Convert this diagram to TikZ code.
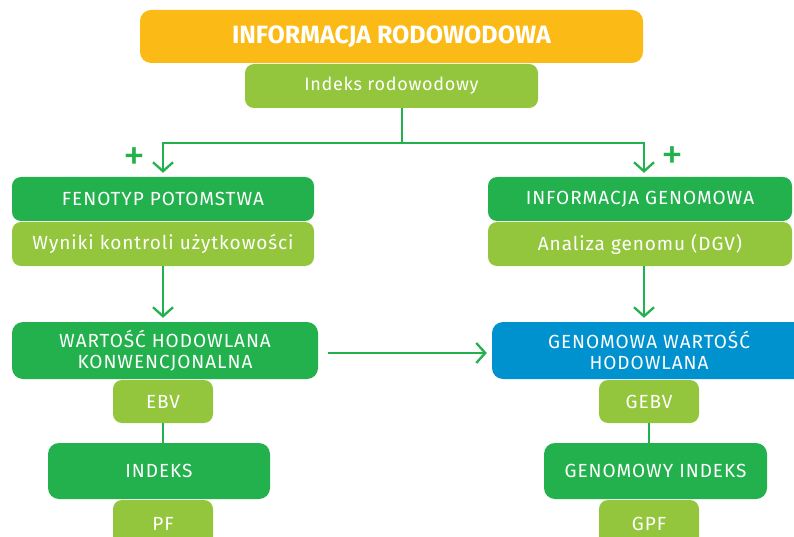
\documentclass[tikz,border=0pt]{standalone}
\usepackage{fontspec}
\setmainfont{Fira Sans}
\usetikzlibrary{arrows.meta}
\definecolor{dgreen}{HTML}{23B14D}
\definecolor{lgreen}{HTML}{93C63D}
\definecolor{orng}{HTML}{FBBA16}
\definecolor{blu}{HTML}{0091CF}
\definecolor{lnc}{HTML}{22B14C}
\tikzset{
  box/.style={rounded corners=11pt, inner sep=0pt, text=white, align=center, font=\fontsize{19}{21}\selectfont\addfontfeatures{LetterSpace=5}},
  sbox/.style={box, rounded corners=9pt},
  conn/.style={draw=lnc, line width=2.3pt},
  arr/.style={conn, -{Straight Barb[length=9pt,width=20pt,line width=2.3pt]}},
  plus/.style={text=lnc, font=\fontsize{44}{44}\selectfont, inner sep=0pt},
}
\begin{document}
\begin{tikzpicture}[x=1pt,y=-1pt]
\useasboundingbox (0,0) rectangle (794,537);
% boxes
\node[box, fill=orng, minimum width=503pt, minimum height=53pt, font=\bfseries\fontsize{25}{27}\selectfont] (top) at (391.5,36.5) {INFORMACJA RODOWODOWA};
\node[sbox, fill=lgreen, minimum width=293pt, minimum height=44pt, font=\fontsize{18}{20}\selectfont\addfontfeatures{LetterSpace=4}] (ir) at (391.5,86) {Indeks rodowodowy};

\node[sbox, fill=dgreen, minimum width=302pt, minimum height=44pt] (fen) at (163,199) {FENOTYP POTOMSTWA};
\node[sbox, fill=lgreen, minimum width=302pt, minimum height=44pt] (wyn) at (163,244) {Wyniki kontroli użytkowości};

\node[sbox, fill=dgreen, minimum width=304pt, minimum height=44pt] (ig) at (640,199) {INFORMACJA GENOMOWA};
\node[sbox, fill=lgreen, minimum width=304pt, minimum height=44pt] (an) at (640,244) {Analiza genomu (DGV)};

\node[box, fill=dgreen, minimum width=306pt, minimum height=57pt] (wh) at (165,350.5) {WARTOŚĆ HODOWLANA\\KONWENCJONALNA};
\node[sbox, fill=lgreen, minimum width=100pt, minimum height=43pt] (ebv) at (163,401.5) {EBV};
\node[box, fill=dgreen, minimum width=222pt, minimum height=56pt] (ind) at (159,471) {INDEKS};
\node[sbox, fill=lgreen, minimum width=100pt, minimum height=48pt] (pf) at (163,524) {PF};

\node[box, fill=blu, minimum width=314pt, minimum height=57pt] (gw) at (649,350.5) {GENOMOWA WARTOŚĆ\\HODOWLANA};
\node[sbox, fill=lgreen, minimum width=100pt, minimum height=43pt] (gebv) at (649,401.5) {GEBV};
\node[box, fill=dgreen, minimum width=223pt, minimum height=56pt] (gi) at (655.5,471) {GENOMOWY INDEKS};
\node[sbox, fill=lgreen, minimum width=100pt, minimum height=48pt] (gpf) at (649,524) {GPF};

% connectors
\coordinate (j) at (402,143);
\coordinate (ja) at (402,108);
\draw[conn] (ja) -- (j);
\draw[arr] (j) -| ([yshift=4pt]fen.north -| 163,0);
\draw[arr] (j) -| ([yshift=4pt]ig.north -| 644,0);
\draw[arr] (wyn.south) -- ([yshift=4pt]wh.north -| wyn.south);
\draw[arr] (an.south -| 644,0) -- ([yshift=4pt]gw.north -| 644,0);
\draw[arr] ([xshift=10pt]wh.east |- 0,353) -- ([xshift=-5pt]gw.west |- 0,353);
\draw[conn] (ebv.south) -- (ind.north -| ebv.south);
\draw[conn] (gebv.south) -- (gi.north -| gebv.south);
% plus signs
\node[plus] (p1) at (134,159) {+};
\node[plus] (p2) at (672,158) {+};
\end{tikzpicture}
\end{document}
